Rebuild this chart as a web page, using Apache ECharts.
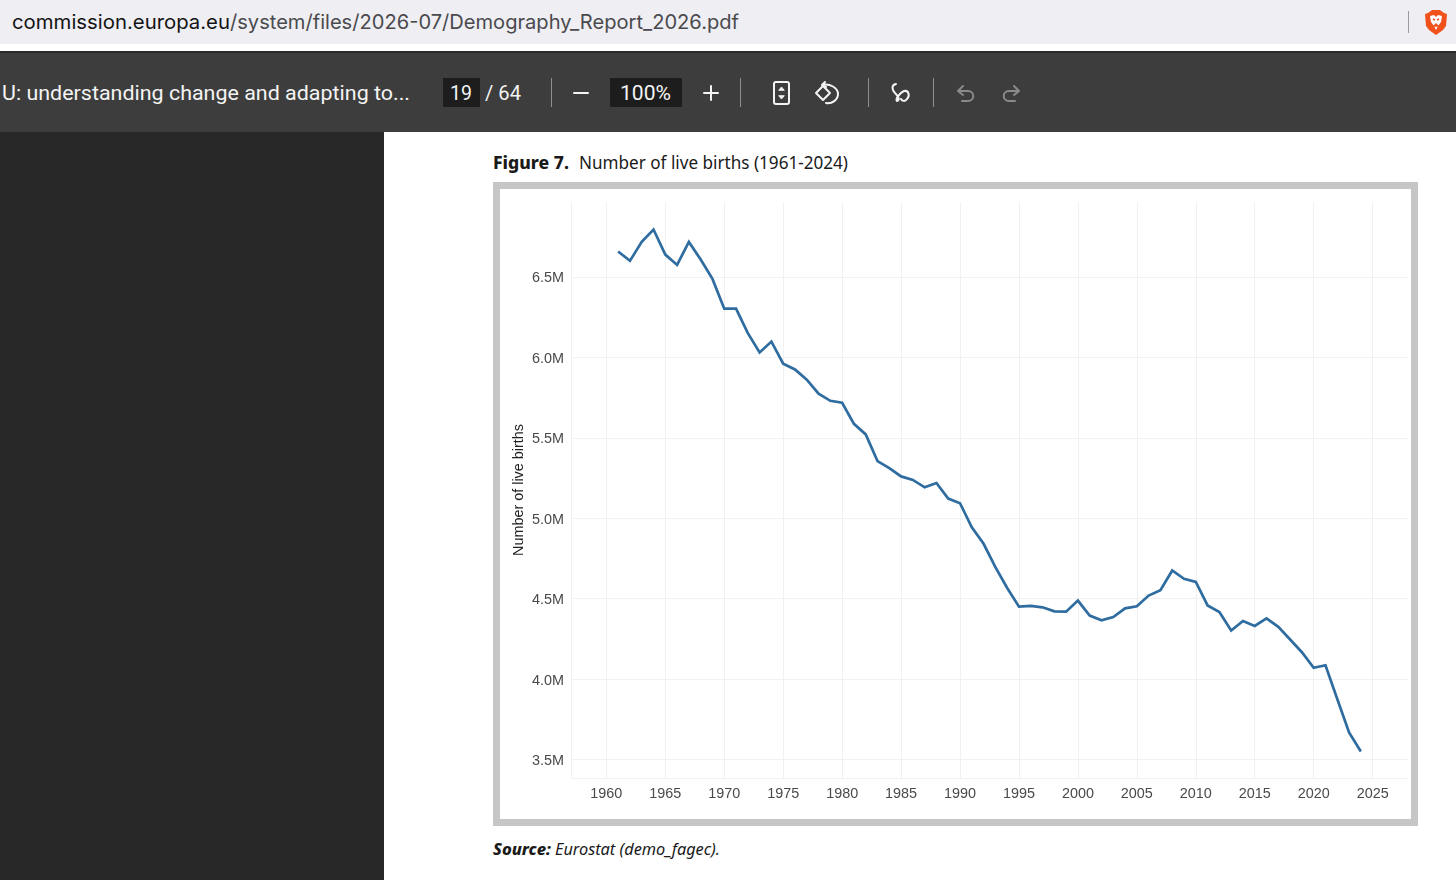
<!DOCTYPE html>
<html>
<head>
<meta charset="utf-8">
<script src="https://cdn.jsdelivr.net/npm/echarts@6/dist/echarts.min.js"></script>
<style>
html,body{margin:0;padding:0;width:1456px;height:880px;overflow:hidden;background:#fff}
#ui,#chart{position:absolute;left:0;top:0;width:1456px;height:880px}
</style>
</head>
<body>
<svg id="ui" width="1456" height="880" xmlns="http://www.w3.org/2000/svg">
  <rect x="0" y="0" width="1456" height="880" fill="#ffffff"/>
  <rect x="0" y="0" width="1456" height="44" fill="#eeeef3"/>
  <rect x="0" y="52" width="1456" height="80" fill="#3d3d3d"/>
  <rect x="0" y="51" width="1456" height="2" fill="#2b2b2b"/>
  <rect x="0" y="132" width="384" height="748" fill="#282828"/>
  <g font-family="Inter" font-size="20">
    <text x="12" y="29" fill="#141414" textLength="218" lengthAdjust="spacingAndGlyphs">commission.europa.eu</text>
    <text x="230" y="29" fill="#4a4a4e" textLength="509" lengthAdjust="spacingAndGlyphs">/system/files/2026-07/Demography_Report_2026.pdf</text>
  </g>
  <rect x="1408" y="11" width="1" height="22" fill="#9a9a9f"/>
  <path d="M1428 13 L1432 10 L1440 10 L1444 13 L1447 14 L1446 26 L1443 30 L1436 35 L1429 30 L1426 26 L1425 14 Z" fill="#f1511b"/>
  <path d="M1430 16 L1434 15 L1436 17 L1438 15 L1442 16 L1441 22 L1438 26 L1436 30 L1434 26 L1431 22 Z" fill="#fff"/>
  <path d="M1433 19 L1435 20 M1439 19 L1437 20 M1434 26 L1438 26 L1436 24 Z" stroke="#f1511b" stroke-width="1.4" fill="#f1511b"/>

  <g font-family="Roboto" font-size="20.5" fill="#f4f4f4">
    <text x="2" y="100" textLength="408" lengthAdjust="spacingAndGlyphs">U: understanding change and adapting to...</text>
    <rect x="443" y="78" width="37" height="29" fill="#1d1d1d"/>
    <text x="450" y="100" textLength="22" lengthAdjust="spacingAndGlyphs">19</text>
    <text x="485" y="100" textLength="36" lengthAdjust="spacingAndGlyphs">/ 64</text>
    <rect x="610" y="78" width="72" height="29" fill="#1d1d1d"/>
    <text x="620" y="100" textLength="51" lengthAdjust="spacingAndGlyphs">100%</text>
  </g>
  <g fill="#8f8f8f">
    <rect x="551" y="78" width="1" height="29"/>
    <rect x="740" y="78" width="1" height="29"/>
    <rect x="868" y="78" width="1" height="29"/>
    <rect x="933" y="78" width="1" height="29"/>
  </g>
  <g stroke="#f4f4f4" stroke-width="2" fill="none" stroke-linecap="round" stroke-linejoin="round">
    <path d="M574 93 H588"/>
    <path d="M704 93 H718 M711 86 V100"/>
    <rect x="774" y="82" width="15" height="22" rx="2"/>
    <path d="M779 90 L781.5 87 L784 90 Z M779 96 L781.5 99 L784 96 Z" fill="#f4f4f4" stroke-width="1"/>
    <path d="M823 86 L816 93 L823 100 L830 93 Z"/>
    <path d="M825 82 L822 85 L826 87 M822 85 C830 83 838 88 838 94 C838 100 832 104 826 103"/>
    <path d="M896 84 C891 85 892 90 895 93 C899 97 900 100 897 101 C895 100 899 93 904 91 C909 90 910 96 907 99 C905 102 902 101 901 99"/>
  </g>
  <g stroke="#8a8a8a" stroke-width="2" fill="none" stroke-linecap="round" stroke-linejoin="round">
    <path d="M963 86 L958 91 L963 95 M958 91 H968 C975 91 975 101 968 101 H962"/>
    <path d="M1014 86 L1019 91 L1014 95 M1019 91 H1009 C1002 91 1002 101 1009 101 H1015"/>
  </g>

  <rect x="496.500" y="185.500" width="918" height="637" fill="#fff" stroke="#c6c6c6" stroke-width="7"/>

  <g font-family="Noto Sans" font-size="18.500" fill="#1a1a1a">
    <text x="493" y="169" font-weight="800" textLength="76" lengthAdjust="spacingAndGlyphs">Figure 7.</text>
    <text x="579" y="169" textLength="269" lengthAdjust="spacingAndGlyphs">Number of live births (1961-2024)</text>
  </g>
  <g font-family="Noto Sans" font-size="16.500" font-style="italic" fill="#1a1a1a">
    <text x="493" y="855" font-weight="800" textLength="58" lengthAdjust="spacingAndGlyphs">Source:</text>
    <text x="555" y="855" textLength="165" lengthAdjust="spacingAndGlyphs">Eurostat (demo_fagec).</text>
  </g>
</svg>
<div id="chart"></div>
<script>
var years = [1961,1962,1963,1964,1965,1966,1967,1968,1969,1970,1971,1972,1973,1974,1975,1976,
  1977,1978,1979,1980,1981,1982,1983,1984,1985,1986,1987,1988,1989,1990,1991,1992,1993,1994,
  1995,1996,1997,1998,1999,2000,2001,2002,2003,2004,2005,2006,2007,2008,2009,2010,2011,2012,
  2013,2014,2015,2016,2017,2018,2019,2020,2021,2022,2023,2024];
var birthsMillions = [6.658,6.600,6.718,6.795,6.639,6.575,6.718,6.608,6.488,6.303,6.303,6.151,6.031,6.098,5.961,5.925,
  5.861,5.774,5.730,5.718,5.587,5.521,5.355,5.311,5.260,5.238,5.192,5.219,5.122,5.093,4.944,4.841,4.696,4.566,
  4.450,4.455,4.446,4.421,4.419,4.488,4.395,4.366,4.386,4.440,4.453,4.519,4.552,4.675,4.623,4.604,4.458,4.417,
  4.302,4.361,4.330,4.377,4.325,4.246,4.167,4.070,4.086,3.876,3.668,3.550];
var xTickLabels = [1960,1965,1970,1975,1980,1985,1990,1995,2000,2005,2010,2015,2020,2025];
var yTickLabels = [3.5,4.0,4.5,5.0,5.5,6.0,6.5];
var xRange = [1957,2028];
var yRange = [3.385,6.966];
var yName = 'Number of live births';

var chart = echarts.init(document.getElementById('chart'), null, {renderer:'canvas', width:1456, height:880});
var gridColor = '#f1f1f3';
var labelColor = '#4a4a4a';
chart.setOption({
  backgroundColor: 'transparent',
  animation: false,
  grid: {left:571, top:202, width:837, height:576, containLabel:false},
  xAxis: {
    type:'value', min:xRange[0], max:xRange[1], interval:5,
    axisLine:{show:false},
    axisTick:{show:false, customValues:[xRange[0]].concat(xTickLabels)},
    splitLine:{show:true, lineStyle:{color:gridColor, width:1}},
    axisLabel:{
      color:labelColor, fontFamily:'Liberation Sans', fontSize:14.4, margin:9,
      customValues:xTickLabels,
      formatter:function(v){ return String(v); }
    }
  },
  yAxis: {
    type:'value', min:yRange[0], max:yRange[1], interval:0.5,
    name:yName, nameLocation:'middle', nameGap:45, nameRotate:90, nameMoveOverlap:false,
    nameTextStyle:{color:'#222', fontFamily:'Liberation Sans', fontSize:14.4},
    axisLine:{show:false},
    axisTick:{show:false, customValues:[yRange[0]].concat(yTickLabels)},
    splitLine:{show:true, lineStyle:{color:gridColor, width:1}},
    axisLabel:{
      color:labelColor, fontFamily:'Liberation Sans', fontSize:14.4, margin:7,
      customValues:yTickLabels,
      formatter:function(v){ return '{a|'+v.toFixed(1)+'M}'; },
      rich:{a:{color:labelColor, fontFamily:'Liberation Sans', fontSize:14.4, padding:[3,0,0,0]}}
    }
  },
  series: [{
    type:'line', showSymbol:false, symbol:'none', smooth:false,
    lineStyle:{color:'#2f6c9f', width:2.7, cap:'butt', join:'miter'},
    data: years.map(function(y,i){ return [y, birthsMillions[i]]; })
  }]
});
</script>
</body>
</html>
